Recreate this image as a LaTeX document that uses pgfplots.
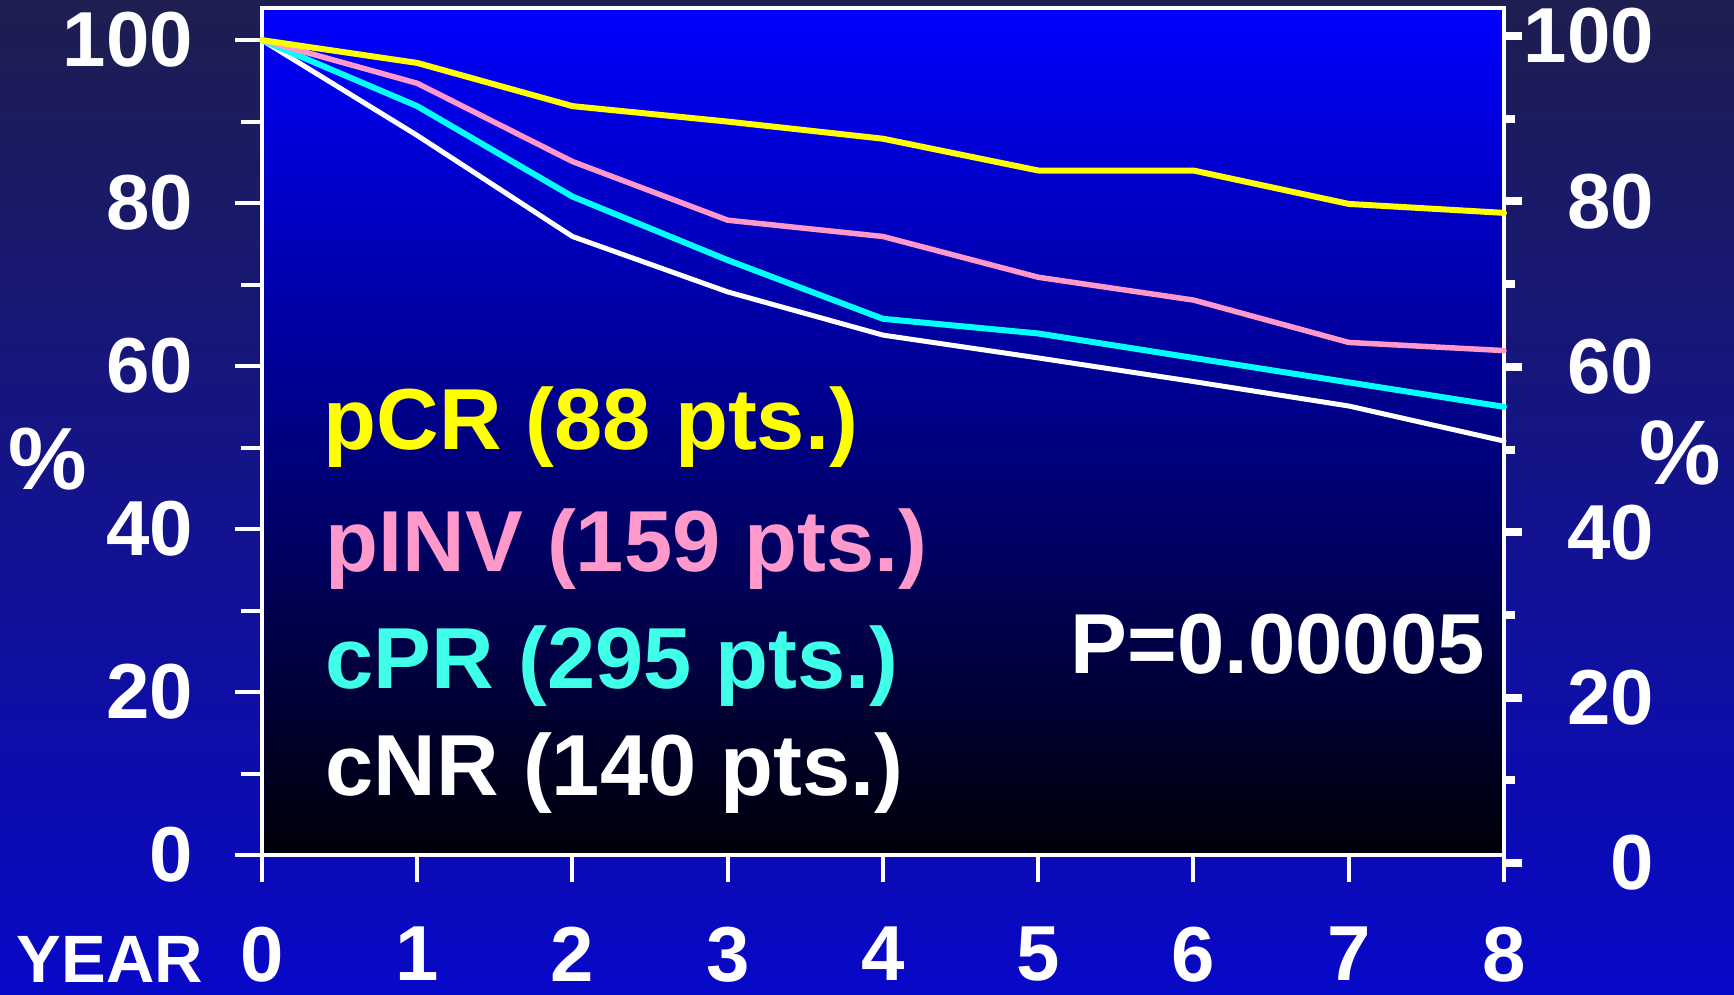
\documentclass[border=0pt]{standalone}
\usepackage{pgfplots}
\pgfplotsset{compat=1.18}
\usepackage{pgfplotstable}
\usepackage{fontspec}
\setmainfont{Liberation Sans}
\definecolor{bgtop}{RGB}{30,30,80}
\definecolor{bgbot}{RGB}{8,8,200}
\definecolor{plottop}{RGB}{0,0,255}
\definecolor{plotbot}{RGB}{0,0,8}
\definecolor{cpink}{RGB}{255,153,204}
\definecolor{ccyan}{RGB}{0,255,255}
\definecolor{ccyantext}{RGB}{64,255,232}
\definecolor{cyellow}{RGB}{255,255,0}

\pgfplotstableread{
year pcr pinv cpr cnr
0 100 100 100 100
1 97.2 94.7 91.9 88.3
2 91.9 85.1 80.8 75.9
3 90.0 77.9 73.0 69.1
4 87.9 75.9 65.8 63.8
5 84.0 70.9 64.0 61.0
6 84.0 68.1 61.0 58.1
7 79.9 62.9 58.0 55.1
8 78.8 61.9 55.0 50.8
}\datatable

\begin{document}
\begin{tikzpicture}[x=0.3pt,y=0.3pt]
\useasboundingbox (0,0) rectangle (1734,994);
\shade[top color=bgtop, bottom color=bgbot] (0,0) rectangle (1734,994);

% right axis (slightly different scale, 0 at 863 px, 100 at 36 px)
\begin{axis}[
  at={(78.6pt,39.3pt)}, anchor=south west,
  scale only axis, width=372.6pt, height=248.1pt,
  xmin=0, xmax=8, ymin=0, ymax=100,
  axis x line=none, axis y line*=right,
  y axis line style={draw=none},
  ytick={0,20,...,100}, minor y tick num=1,
  tick align=outside,
  major tick length=6.9pt, minor tick length=4.8pt,
  every tick/.style={white, line width=2.4pt, line cap=butt, dash pattern=on 0pt off 1.5pt on 10pt},
  yticklabel style={font=\fontsize{23.4}{25}\selectfont\bfseries, text=white, anchor=east, inner sep=0pt, xshift=38.3pt},
  /pgf/number format/assume math mode=true,
  clip=false,
]
\addplot[draw=none] coordinates {(0,50)};
\end{axis}

% main axis
\begin{axis}[
  at={(78.6pt,41.7pt)}, anchor=south west,
  scale only axis, width=372.6pt, height=254pt,
  xmin=0, xmax=8, ymin=0, ymax=103.9,
  axis background/.style={shade, top color=plottop, bottom color=plotbot},
  axis line style={white, line width=1.2pt},
  xtick pos=bottom, ytick pos=left,
  xtick={0,...,8}, ytick={0,20,...,100}, minor y tick num=1,
  tick align=outside,
  major tick length=8.1pt, minor tick length=6.3pt,
  every tick/.style={white, line width=1.2pt},
  ticklabel style={font=\fontsize{23.4}{25}\selectfont\bfseries, text=white},
  yticklabel style={inner sep=0pt, xshift=-12.4pt},
  xticklabel style={inner sep=0pt, text depth=0pt, yshift=-13.3pt},
  /pgf/number format/assume math mode=true,
  clip=false,
]
\addplot[white, line width=1.5pt, line cap=round, line join=round] table[x=year, y=cnr] {\datatable};
\addplot[ccyan, line width=1.8pt, line cap=round, line join=round] table[x=year, y=cpr] {\datatable};
\addplot[cpink, line width=1.65pt, line cap=round, line join=round] table[x=year, y=pinv] {\datatable};
\addplot[cyellow, line width=1.8pt, line cap=round, line join=round] table[x=year, y=pcr] {\datatable};
\end{axis}

\begin{scope}[every node/.style={inner sep=0pt, anchor=base west, font=\fontsize{26}{28}\selectfont\bfseries}]
\node[text=cyellow] at (323,544) {pCR (88 pts.)};
\node[text=cpink] at (325,422) {pINV (159 pts.)};
\node[text=ccyantext] at (325,306) {cPR (295 pts.)};
\node[text=white] at (325,199) {cNR (140 pts.)};
\node[text=white, font=\fontsize{25.55}{28}\selectfont\bfseries] at (1070,321) {P=0.00005};
\end{scope}
\node[text=white, inner sep=0pt, anchor=base, text depth=0pt, font=\fontsize{20.1}{22}\selectfont\bfseries] at (110,12) {YEAR};
\node[text=white, inner sep=0pt, font=\fontsize{26.5}{30}\selectfont\bfseries] at (48,535) {\%};
\node[text=white, inner sep=0pt, font=\fontsize{27.5}{30}\selectfont\bfseries] at (1680,541) {\%};
\end{tikzpicture}
\end{document}
